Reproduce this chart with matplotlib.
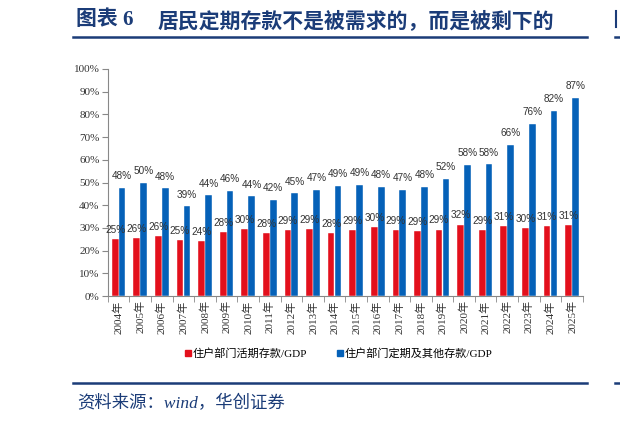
import numpy as np
import matplotlib
matplotlib.use('Agg')
import matplotlib.pyplot as plt
from matplotlib.lines import Line2D

plt.rcParams['font.family'] = ['Liberation Serif', 'Noto Sans CJK SC']

# データ
years = ['2004年', '2005年', '2006年', '2007年', '2008年', '2009年', '2010年', '2011年',
         '2012年', '2013年', '2014年', '2015年', '2016年', '2017年', '2018年', '2019年',
         '2020年', '2021年', '2022年', '2023年', '2024年', '2025年']
demand = [25.2, 25.7, 26.3, 24.6, 24.1, 28.1, 29.6, 27.6, 28.9, 29.4, 27.8, 28.9,
          30.4, 29.1, 28.5, 29.3, 31.5, 29.0, 31.0, 30.1, 30.7, 31.3]
demand_lbl = ['25%', '26%', '26%', '25%', '24%', '28%', '30%', '28%', '29%', '29%', '28%', '29%',
              '30%', '29%', '29%', '29%', '32%', '29%', '31%', '30%', '31%', '31%']
time_dep = [47.6, 49.7, 47.4, 39.5, 44.3, 46.4, 43.9, 42.4, 45.2, 46.9, 48.6, 48.8,
            48.0, 46.6, 48.0, 51.6, 57.8, 58.0, 66.4, 75.8, 81.6, 87.1]
time_lbl = ['48%', '50%', '48%', '39%', '44%', '46%', '44%', '42%', '45%', '47%', '49%', '49%',
            '48%', '47%', '48%', '52%', '58%', '58%', '66%', '76%', '82%', '87%']

RED = '#E3101C'
BLUE = '#0561B8'
NAVY = '#1B3C78'

fig = plt.figure(figsize=(6.2, 4.23), dpi=100)
ax = fig.add_axes([0.174, 0.300, 0.766, 0.537])

x = np.arange(len(years))
w = 0.31
ax.bar(x - 0.16, demand, w, color=RED, edgecolor='white', linewidth=0.3)
ax.bar(x + 0.16, time_dep, w, color=BLUE, edgecolor='white', linewidth=0.3)

for i in range(len(years)):
    ax.text(x[i] - 0.16, demand[i] + 1.8, demand_lbl[i], ha='center', va='bottom',
            fontsize=7.2, family='Liberation Sans', color='#333333')
    ax.text(x[i] + 0.16, time_dep[i] + 3.0, time_lbl[i], ha='center', va='bottom',
            fontsize=7.2, family='Liberation Sans', color='#333333')

ax.set_xlim(-0.5, len(years) - 0.5)
ax.set_ylim(0, 100)
ax.set_yticks(np.arange(0, 101, 10))
ax.set_yticklabels([f'{v}%' for v in range(0, 101, 10)], fontsize=8, color='#333333')
ax.set_xticks(x)
ax.set_xticklabels(years, rotation=90, fontsize=8, color='#333333')
ax.set_xticks(np.arange(-0.5, len(years)), minor=True)
ax.tick_params(axis='x', which='major', length=0, pad=3)
ax.tick_params(axis='x', which='minor', length=4, color='#888888', direction='out')
ax.tick_params(axis='y', length=4, color='#888888', direction='out', pad=2)
for s in ['top', 'right']:
    ax.spines[s].set_visible(False)
for s in ['left', 'bottom']:
    ax.spines[s].set_color('#888888')
    ax.spines[s].set_linewidth(0.8)

# 凡例
handles = [Line2D([], [], marker='s', ls='', color=RED, markersize=4),
           Line2D([], [], marker='s', ls='', color=BLUE, markersize=4)]
fig.legend(handles, ['住户部门活期存款/GDP', '住户部门定期及其他存款/GDP'],
           loc='center', bbox_to_anchor=(0.545, 0.165), ncol=2, frameon=False,
           fontsize=8, handletextpad=0.05, columnspacing=2.5, handlelength=0.8)

# タイトルと出所
fig.text(0.122, 0.952, '图表 6', fontsize=15, fontweight='bold', color=NAVY,
         va='center', family=['Liberation Serif', 'Noto Sans CJK SC'])
fig.text(0.254, 0.952, '居民定期存款不是被需求的，而是被剩下的', fontsize=15,
         fontweight='bold', color=NAVY, va='center', family=['Noto Sans CJK SC'])
fig.add_artist(Line2D([0.118, 0.947], [0.912, 0.912], color=NAVY, lw=1.8))
fig.add_artist(Line2D([0.992, 1.0], [0.912, 0.912], color=NAVY, lw=1.8))
fig.add_artist(Line2D([0.993, 0.993], [0.935, 0.975], color=NAVY, lw=1.5))
fig.add_artist(Line2D([0.118, 0.947], [0.095, 0.095], color=NAVY, lw=1.8))
fig.add_artist(Line2D([0.992, 1.0], [0.095, 0.095], color=NAVY, lw=1.8))
fig.text(0.124, 0.047, '资料来源：wind，华创证券', fontsize=12.5, style='italic',
         color=NAVY, va='center')

fig.savefig('out.png', dpi=100)
